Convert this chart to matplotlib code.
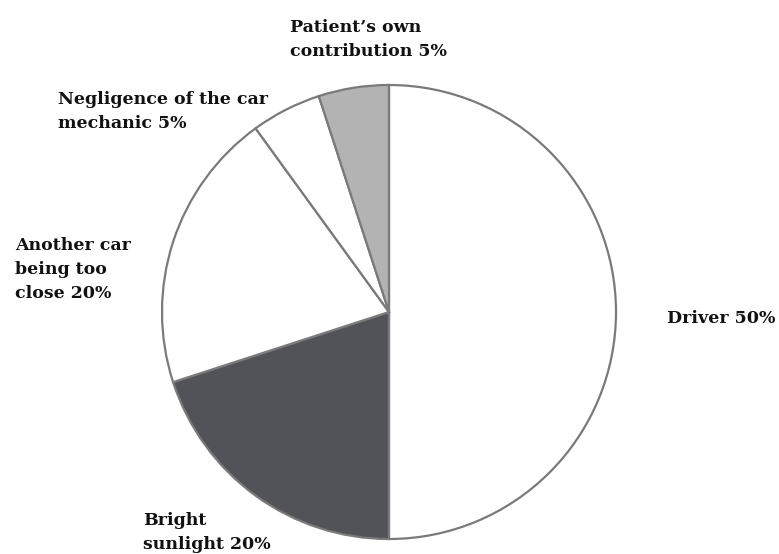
import matplotlib.pyplot as plt

labels = ['Driver 50%', 'Bright\nsunlight 20%', 'Another car\nbeing too\nclose 20%',
          'Negligence of the car\nmechanic 5%', "Patient\u2019s own\ncontribution 5%"]
shares = [50, 20, 20, 5, 5]
colors = ['white', '#515359', 'white', 'white', '#b3b3b3']

# label anchor points in pixels (left edge, baseline of last line)
label_px = [(667, 323), (143, 549), (15, 298), (58, 128), (290, 56)]

W, H = 779, 554
cx, cy, r = 389, 312, 227

fig = plt.figure(figsize=(W / 100, H / 100), dpi=100)
ax = fig.add_axes([0, 0, 1, 1])
ax.pie(shares, colors=colors, startangle=90, counterclock=False,
       wedgeprops=dict(edgecolor='#7a7a7a', linewidth=1.6))
ax.set_xlim(-cx / r, (W - cx) / r)
ax.set_ylim(-(H - cy) / r, cy / r)
ax.set_aspect('equal')
ax.axis('off')

for lab, (x, y) in zip(labels, label_px):
    fig.text(x / W, 1 - y / H, lab, ha='left', va='baseline', fontsize=12.5,
             family='DejaVu Serif', fontweight='bold', linespacing=1.55,
             color='#111111')

plt.savefig('out.png', dpi=100)
